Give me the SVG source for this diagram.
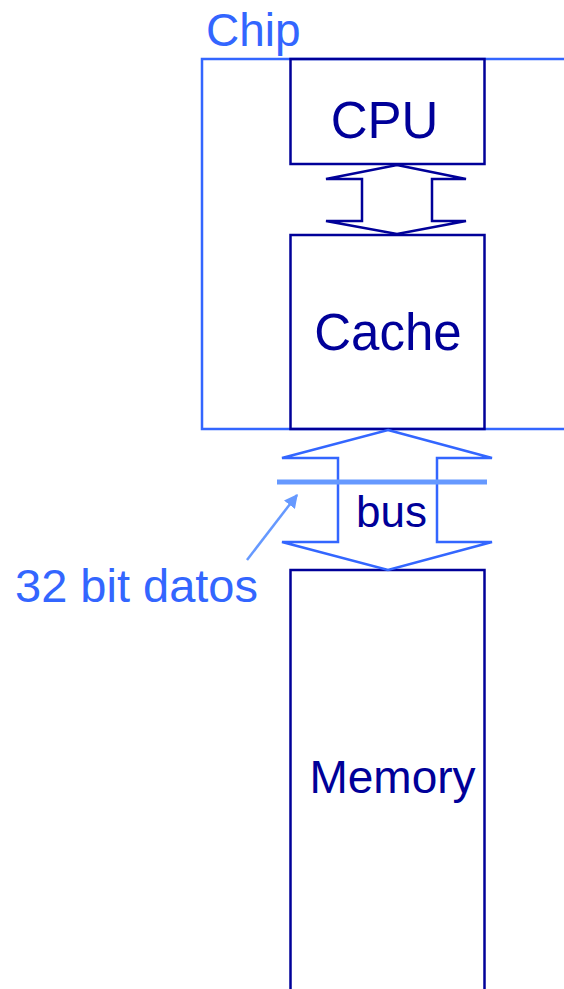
<svg xmlns="http://www.w3.org/2000/svg" width="564" height="989" viewBox="0 0 564 989">
  <style>
    .box { fill: none; stroke: #000099; stroke-width: 2.5; }
    .chip { fill: none; stroke: #3366ff; stroke-width: 2.5; }
    .dark { fill: #000099; font-family: "Liberation Sans", Arial, sans-serif; text-anchor: middle; }
    .blue { fill: #3366ff; font-family: "Liberation Sans", Arial, sans-serif; }
    .barrow { fill: #ffffff; stroke-width: 2.5; stroke-linejoin: miter; }
  </style>
  <defs>
    <marker id="head" viewBox="0 0 10 10" refX="9" refY="5" markerWidth="5.5" markerHeight="5.5" orient="auto">
      <path d="M0,0 L10,5 L0,10 z" fill="#6699ff"/>
    </marker>
  </defs>
  <rect width="564" height="989" fill="#ffffff"/>

  <g id="chip">
    <path class="chip" d="M566,59 H202 V429 H566"/>
    <text class="blue" x="206" y="46" font-size="46">Chip</text>
  </g>

  <g id="cpu">
    <rect class="box" x="290.5" y="59" width="194" height="105"/>
    <text class="dark" x="384.5" y="138" font-size="51">CPU</text>
  </g>

  <g id="cache">
    <rect class="box" x="290.5" y="235" width="194" height="194"/>
    <text class="dark" x="388" y="350" font-size="51">Cache</text>
  </g>

  <g id="memory">
    <rect class="box" x="290.5" y="570" width="194" height="440"/>
    <text class="dark" x="392.5" y="793" font-size="46">Memory</text>
  </g>

  <g id="connectors">
    <!-- CPU <-> Cache block arrow -->
    <path class="barrow" stroke="#000099" d="M397,165 L466,179 H432 V221 H466 L397,234 L326,221 H362 V179 H326 Z"/>
    <!-- Cache <-> Memory bus arrow -->
    <path class="barrow" stroke="#3366ff" d="M388,430 L492,458 H437 V542 H492 L388,570 L282,542 H338 V458 H282 Z"/>
    <!-- 32-bit data lines -->
    <line x1="277" y1="482" x2="487" y2="482" stroke="#6699ff" stroke-width="5"/>
    <line x1="247" y1="560" x2="297" y2="495" stroke="#6699ff" stroke-width="2.5" marker-end="url(#head)"/>
  </g>

  <text class="dark" x="391.5" y="527" font-size="44">bus</text>
  <text class="blue" x="15" y="602" font-size="47">32 bit datos</text>
</svg>
